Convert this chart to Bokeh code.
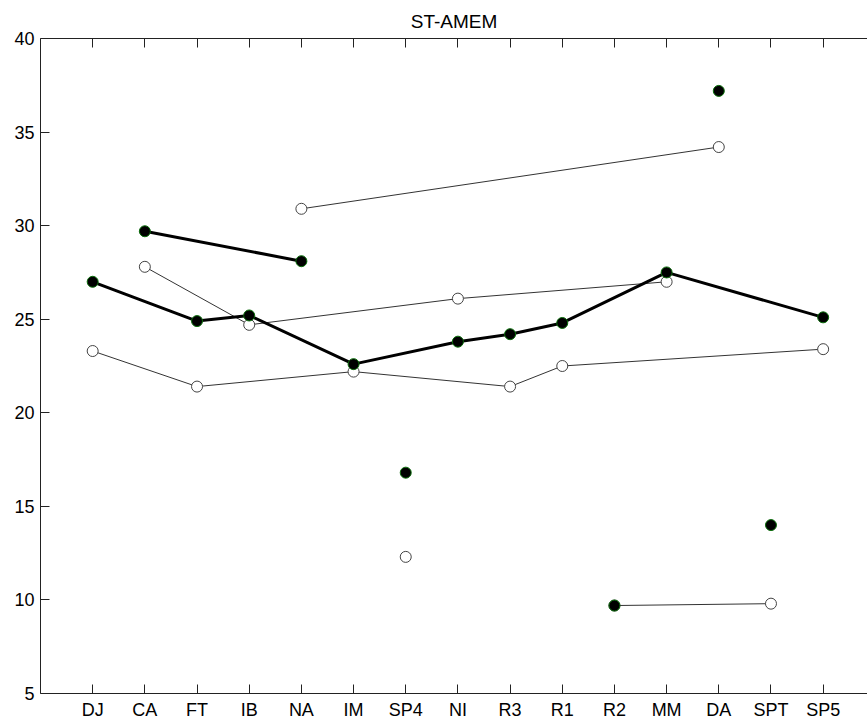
import math
from bokeh.plotting import figure
from bokeh.models import Range1d, LinearAxis, FixedTicker
from bokeh.embed import file_html
from bokeh.resources import INLINE

# ---------------- data ----------------
categories = ["DJ", "CA", "FT", "IB", "NA", "IM", "SP4", "NI", "R3", "R1",
              "R2", "MM", "DA", "SPT", "SP5"]
filled_values = [27.0, 29.7, 24.9, 25.2, 28.1, 22.6, 16.8, 23.8, 24.2, 24.8,
                 9.7, 27.5, 37.2, 14.0, 25.1]
open_values = [23.3, 27.8, 21.4, 24.7, 30.9, 22.2, 12.3, 26.1, 21.4, 22.5,
               9.7, 27.0, 34.2, 9.8, 23.4]

thick_lines = [
    ["DJ", "FT", "IB", "IM", "NI", "R3", "R1", "MM", "SP5"],
    ["CA", "NA"],
]
thin_lines = [
    ["DJ", "FT", "IM", "R3", "R1", "SP5"],
    ["CA", "IB", "NI", "MM"],
    ["NA", "DA"],
    ["R2", "SPT"],
]
y_ticks = [5, 10, 15, 20, 25, 30, 35, 40]
title_text = "ST-AMEM"

FONT = "Liberation Sans"
AXIS_COLOR = "#222222"

xpos = {c: i + 1 for i, c in enumerate(categories)}
fmap = dict(zip(categories, filled_values))
omap = dict(zip(categories, open_values))

p = figure(width=867, height=722, output_backend="svg", toolbar_location=None,
           x_range=Range1d(0, 15.85), y_range=Range1d(5, 40),
           min_border_left=40, min_border_right=0, min_border_top=38,
           min_border_bottom=27, x_axis_location="below")
p.background_fill_color = "white"
p.border_fill_color = "white"
p.outline_line_color = None
p.xgrid.visible = False
p.ygrid.visible = False

p.title.text = title_text
p.title.align = "center"
p.title.text_font = FONT
p.title.text_font_size = "19px"
p.title.text_font_style = "normal"
p.title.text_color = "black"
p.title.offset = 3
p.title.standoff = 14


def style_axis(ax):
    ax.axis_line_color = AXIS_COLOR
    ax.axis_line_width = 1
    ax.major_tick_line_color = AXIS_COLOR
    ax.major_tick_in = 9
    ax.major_tick_out = 0
    ax.minor_tick_line_color = None
    ax.major_label_text_font = FONT
    ax.major_label_text_color = "black"
    ax.major_label_text_font_size = "18px"


xa = p.xaxis[0]
xa.ticker = FixedTicker(ticks=[xpos[c] for c in categories])
xa.major_label_overrides = {xpos[c]: c for c in categories}
style_axis(xa)
xa.major_label_standoff = 6

ya = p.yaxis[0]
ya.ticker = FixedTicker(ticks=y_ticks)
style_axis(ya)
ya.major_label_standoff = 6

# top box edge with inward ticks (no labels): minor ticks only
top = LinearAxis(ticker=FixedTicker(ticks=[], minor_ticks=[xpos[c] for c in categories]))
top.axis_line_color = AXIS_COLOR
top.axis_line_width = 1
top.major_tick_line_color = None
top.minor_tick_line_color = AXIS_COLOR
top.minor_tick_in = 9
top.minor_tick_out = 0
top.major_label_standoff = 0
p.add_layout(top, "above")

# thin lines (open series)
for seg in thin_lines:
    p.line([xpos[c] for c in seg], [omap[c] for c in seg],
           line_color="#333333", line_width=1)

# open markers
ox = [xpos[c] for c, v in zip(categories, open_values) if not math.isnan(v)]
oy = [v for v in open_values if not math.isnan(v)]
p.scatter(ox, oy, size=11, marker="circle", fill_color="white",
          line_color="#444444", line_width=1)

# thick lines (filled series)
for seg in thick_lines:
    p.line([xpos[c] for c in seg], [fmap[c] for c in seg],
           line_color="black", line_width=3)

# filled markers
p.scatter([xpos[c] for c in categories], filled_values, size=11,
          marker="circle", fill_color="black", line_color="#0a6e0a",
          line_width=1)

open("out.html", "w").write(file_html(p, INLINE))
